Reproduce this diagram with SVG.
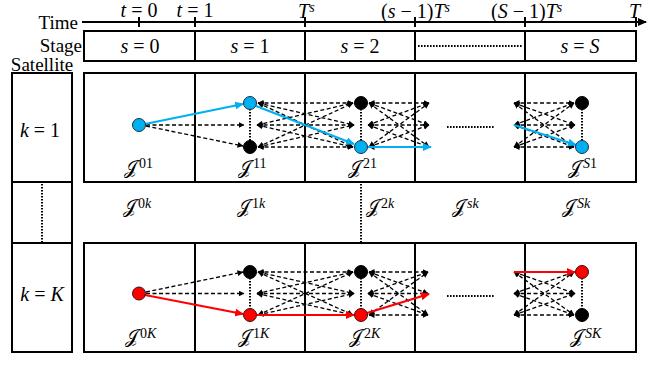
<svg xmlns="http://www.w3.org/2000/svg" width="648" height="365" viewBox="0 0 648 365">
<style>
.bx{fill:none;stroke:#000;stroke-width:2}
.dv{stroke:#000;stroke-width:2}
.tk{stroke:#000;stroke-width:2}
.dt{stroke:#000;stroke-width:2;stroke-dasharray:1.6 1.4}
.dh{stroke:#000;stroke-width:2;stroke-dasharray:1.6 1.4}
.da{stroke:#000;stroke-width:1.3;stroke-dasharray:4 2.5;fill:none;marker-start:url(#ah);marker-end:url(#ah)}
.df{stroke:#000;stroke-width:1.3;stroke-dasharray:4 2.5;fill:none;marker-end:url(#ah)}
.bl{stroke:#00B0F0;stroke-width:2.2;fill:none;marker-end:url(#ab)}
.rd{stroke:#FF0000;stroke-width:2.2;fill:none;marker-end:url(#ar)}
.nb{fill:#00B0F0;stroke:#1F2F3F;stroke-width:1}
.nr{fill:#FF0000;stroke:#3A1010;stroke-width:1}
.nk{fill:#000;stroke:#000;stroke-width:1}
.lb{font-family:"Liberation Serif","DejaVu Serif",serif;font-size:19px;fill:#000}
.m{font-family:"Liberation Serif","DejaVu Serif",serif;font-size:20px;fill:#000}
.it{font-style:italic}
.J{font-family:"DejaVu Serif","DejaVu Sans","Noto Sans",serif;font-size:19px;fill:#000}
.sp{font-family:"Liberation Serif","DejaVu Serif",serif;font-size:14px}
</style>
<defs>
<marker id="ah" markerUnits="userSpaceOnUse" markerWidth="6" markerHeight="6" refX="5.5" refY="3" orient="auto-start-reverse"><path d="M0,0 L6,3 L0,6 z" fill="#000"/></marker>
<marker id="ab" markerUnits="userSpaceOnUse" markerWidth="9" markerHeight="8" refX="8" refY="4" orient="auto"><path d="M0,0 L9,4 L0,8 z" fill="#00B0F0"/></marker>
<marker id="ar" markerUnits="userSpaceOnUse" markerWidth="9" markerHeight="8" refX="8" refY="4" orient="auto"><path d="M0,0 L9,4 L0,8 z" fill="#FF0000"/></marker>
<marker id="ax" markerUnits="userSpaceOnUse" markerWidth="9" markerHeight="8" refX="8" refY="4" orient="auto"><path d="M0,0 L9,4 L0,8 z" fill="#000"/></marker>
</defs>

<g id="time-axis">
<line x1="82" y1="22" x2="646" y2="22" stroke="#000" stroke-width="2" marker-end="url(#ax)"/>
<line class="tk" x1="139" y1="17" x2="139" y2="27"/>
<line class="tk" x1="195" y1="17" x2="195" y2="27"/>
<line class="tk" x1="305" y1="17" x2="305" y2="27"/>
<line class="tk" x1="415" y1="17" x2="415" y2="27"/>
<line class="tk" x1="525" y1="17" x2="525" y2="27"/>
<line class="tk" x1="636" y1="17" x2="636" y2="27"/>
<text class="lb" x="78" y="29" text-anchor="end">Time</text>
<text class="m" x="139" y="17" text-anchor="middle"><tspan class="it">t</tspan> = 0</text>
<text class="m" x="195" y="17" text-anchor="middle"><tspan class="it">t</tspan> = 1</text>
<text class="m" x="298" y="18"><tspan class="it">T</tspan><tspan class="sp it" dy="-6">s</tspan></text>
<text class="m" x="381" y="18">(<tspan class="it">s</tspan> − 1)<tspan class="it">T</tspan><tspan class="sp it" dy="-6">s</tspan></text>
<text class="m" x="491" y="18">(<tspan class="it">S</tspan> − 1)<tspan class="it">T</tspan><tspan class="sp it" dy="-6">s</tspan></text>
<text class="m it" x="629" y="18">T</text>
</g>

<g id="stage-row">
<rect class="bx" x="84" y="31" width="552" height="30"/>
<line class="dv" x1="195" y1="31" x2="195" y2="61"/>
<line class="dv" x1="305" y1="31" x2="305" y2="61"/>
<line class="dv" x1="415" y1="31" x2="415" y2="61"/>
<line class="dv" x1="525" y1="31" x2="525" y2="61"/>
<line class="dh" x1="418" y1="46" x2="523" y2="46"/>
<text class="lb" x="82" y="52" text-anchor="end">Stage</text>
<text class="m" x="140" y="53" text-anchor="middle"><tspan class="it">s</tspan> = 0</text>
<text class="m" x="250" y="53" text-anchor="middle"><tspan class="it">s</tspan> = 1</text>
<text class="m" x="360" y="53" text-anchor="middle"><tspan class="it">s</tspan> = 2</text>
<text class="m" x="580" y="53" text-anchor="middle"><tspan class="it">s</tspan> = <tspan class="it">S</tspan></text>
</g>

<g id="satellite-column">
<text class="lb" x="42" y="71" text-anchor="middle">Satellite</text>
<rect class="bx" x="12" y="73" width="60" height="109"/>
<rect class="bx" x="12" y="182" width="60" height="61"/>
<rect class="bx" x="12" y="243" width="60" height="109"/>
<line class="dt" x1="42" y1="184" x2="42" y2="242"/>
<text class="m" x="40" y="137" text-anchor="middle"><tspan class="it">k</tspan> = 1</text>
<text class="m" x="42" y="301" text-anchor="middle"><tspan class="it">k</tspan> = <tspan class="it">K</tspan></text>
</g>

<g id="grid">
<rect class="bx" x="84" y="73" width="552" height="109"/>
<line class="dv" x1="195" y1="73" x2="195" y2="182"/>
<line class="dv" x1="305" y1="73" x2="305" y2="182"/>
<line class="dv" x1="415" y1="73" x2="415" y2="182"/>
<line class="dv" x1="525" y1="73" x2="525" y2="182"/>
<rect class="bx" x="84" y="243" width="552" height="109"/>
<line class="dv" x1="195" y1="243" x2="195" y2="352"/>
<line class="dv" x1="305" y1="243" x2="305" y2="352"/>
<line class="dv" x1="415" y1="243" x2="415" y2="352"/>
<line class="dv" x1="525" y1="243" x2="525" y2="352"/>
<line class="dt" x1="361" y1="184" x2="361" y2="242"/>
<line class="dh" x1="447" y1="127" x2="495" y2="127"/>
<line class="dh" x1="447" y1="296" x2="495" y2="296"/>
</g>

<g id="connectors">
<line class="dt" x1="250" y1="109" x2="250" y2="141"/>
<line class="dt" x1="361" y1="109" x2="361" y2="141"/>
<line class="dt" x1="582" y1="109" x2="582" y2="141"/>
<line class="dt" x1="250" y1="278" x2="250" y2="309"/>
<line class="dt" x1="361" y1="278" x2="361" y2="309"/>
<line class="dt" x1="582" y1="278" x2="582" y2="309"/>

<line class="df" x1="146" y1="125" x2="244" y2="125"/>
<line class="df" x1="146" y1="126" x2="243" y2="146"/>

<line class="da" x1="258" y1="103" x2="353" y2="103"/>
<line class="da" x1="258" y1="103" x2="354" y2="125"/>
<line class="da" x1="258" y1="103" x2="353" y2="147"/>
<line class="da" x1="257" y1="125" x2="353" y2="103"/>
<line class="da" x1="257" y1="125" x2="354" y2="125"/>
<line class="da" x1="257" y1="125" x2="353" y2="147"/>
<line class="da" x1="258" y1="147" x2="353" y2="103"/>
<line class="da" x1="258" y1="147" x2="354" y2="125"/>
<line class="da" x1="258" y1="147" x2="353" y2="147"/>

<line class="da" x1="369" y1="103" x2="429" y2="103"/>
<line class="da" x1="369" y1="103" x2="429" y2="125"/>
<line class="da" x1="369" y1="103" x2="429" y2="147"/>
<line class="da" x1="368" y1="125" x2="429" y2="103"/>
<line class="da" x1="368" y1="125" x2="429" y2="125"/>
<line class="da" x1="368" y1="125" x2="429" y2="147"/>
<line class="da" x1="369" y1="147" x2="429" y2="103"/>
<line class="da" x1="369" y1="147" x2="429" y2="125"/>
<line class="da" x1="369" y1="147" x2="429" y2="147"/>

<line class="da" x1="514" y1="103" x2="574" y2="103"/>
<line class="da" x1="514" y1="103" x2="575" y2="125"/>
<line class="da" x1="514" y1="103" x2="574" y2="147"/>
<line class="da" x1="514" y1="125" x2="574" y2="103"/>
<line class="da" x1="514" y1="125" x2="575" y2="125"/>
<line class="da" x1="514" y1="125" x2="574" y2="147"/>
<line class="da" x1="514" y1="147" x2="574" y2="103"/>
<line class="da" x1="514" y1="147" x2="575" y2="125"/>
<line class="da" x1="514" y1="147" x2="574" y2="147"/>

<line class="bl" x1="145" y1="124" x2="243" y2="104"/>
<line class="bl" x1="256" y1="106" x2="354" y2="144"/>
<line class="bl" x1="368" y1="147" x2="431" y2="147"/>
<line class="bl" x1="514" y1="125" x2="576" y2="145"/>

<line class="df" x1="146" y1="292" x2="243" y2="272"/>
<line class="df" x1="146" y1="293.5" x2="244" y2="293.5"/>

<line class="da" x1="258" y1="272" x2="353" y2="272"/>
<line class="da" x1="258" y1="272" x2="354" y2="293.5"/>
<line class="da" x1="258" y1="272" x2="353" y2="315"/>
<line class="da" x1="257" y1="293.5" x2="353" y2="272"/>
<line class="da" x1="257" y1="293.5" x2="354" y2="293.5"/>
<line class="da" x1="257" y1="293.5" x2="353" y2="315"/>
<line class="da" x1="258" y1="315" x2="353" y2="272"/>
<line class="da" x1="258" y1="315" x2="354" y2="293.5"/>

<line class="da" x1="369" y1="272" x2="428" y2="272"/>
<line class="da" x1="369" y1="272" x2="428" y2="293.5"/>
<line class="da" x1="369" y1="272" x2="428" y2="315"/>
<line class="da" x1="368" y1="293.5" x2="428" y2="272"/>
<line class="da" x1="368" y1="293.5" x2="428" y2="293.5"/>
<line class="da" x1="368" y1="293.5" x2="428" y2="315"/>
<line class="da" x1="369" y1="315" x2="428" y2="272"/>
<line class="da" x1="369" y1="315" x2="428" y2="315"/>

<line class="da" x1="514" y1="272" x2="575" y2="293.5"/>
<line class="da" x1="514" y1="272" x2="574" y2="315"/>
<line class="da" x1="514" y1="293.5" x2="574" y2="272"/>
<line class="da" x1="514" y1="293.5" x2="575" y2="293.5"/>
<line class="da" x1="514" y1="293.5" x2="574" y2="315"/>
<line class="da" x1="514" y1="315" x2="574" y2="272"/>
<line class="da" x1="514" y1="315" x2="575" y2="293.5"/>
<line class="da" x1="514" y1="315" x2="574" y2="315"/>

<line class="rd" x1="145" y1="295" x2="243" y2="314"/>
<line class="rd" x1="257" y1="315" x2="354" y2="315"/>
<line class="rd" x1="367" y1="313" x2="429" y2="294"/>
<line class="rd" x1="514" y1="272" x2="575" y2="272"/>
</g>

<g id="node-0-1"><circle class="nb" cx="139" cy="125" r="6.5"/><text class="J" x="124" y="174">𝒥<tspan class="sp" x="139" y="168">01</tspan></text></g>
<g id="node-1-1"><circle class="nb" cx="250" cy="103" r="6.5"/><circle class="nk" cx="250" cy="147" r="6.5"/><text class="J" x="238" y="174">𝒥<tspan class="sp" x="253" y="168">11</tspan></text></g>
<g id="node-2-1"><circle class="nk" cx="361" cy="103" r="6.5"/><circle class="nb" cx="361" cy="147" r="6.5"/><text class="J" x="348" y="174">𝒥<tspan class="sp" x="363" y="168">21</tspan></text></g>
<g id="node-S-1"><circle class="nk" cx="582" cy="103" r="6.5"/><circle class="nb" cx="582" cy="147" r="6.5"/><text class="J" x="568" y="174">𝒥<tspan class="sp" x="583" y="168"><tspan class="it">S</tspan>1</tspan></text></g>

<g id="node-0-k"><text class="J" x="123" y="213">𝒥<tspan class="sp" x="138" y="208">0<tspan class="it">k</tspan></tspan></text></g>
<g id="node-1-k"><text class="J" x="237" y="213">𝒥<tspan class="sp" x="252" y="208">1<tspan class="it">k</tspan></tspan></text></g>
<g id="node-2-k"><text class="J" x="366" y="213">𝒥<tspan class="sp" x="381" y="208">2<tspan class="it">k</tspan></tspan></text></g>
<g id="node-s-k"><text class="J" x="452" y="213">𝒥<tspan class="sp" x="467" y="208"><tspan class="it">sk</tspan></tspan></text></g>
<g id="node-S-k"><text class="J" x="562" y="213">𝒥<tspan class="sp" x="577" y="208"><tspan class="it">Sk</tspan></tspan></text></g>

<g id="node-0-K"><circle class="nr" cx="139" cy="293.5" r="6.5"/><text class="J" x="125" y="343">𝒥<tspan class="sp" x="140" y="338">0<tspan class="it">K</tspan></tspan></text></g>
<g id="node-1-K"><circle class="nk" cx="250" cy="272" r="6.5"/><circle class="nr" cx="250" cy="315" r="6.5"/><text class="J" x="238" y="343">𝒥<tspan class="sp" x="253" y="338">1<tspan class="it">K</tspan></tspan></text></g>
<g id="node-2-K"><circle class="nk" cx="361" cy="272" r="6.5"/><circle class="nr" cx="361" cy="315" r="6.5"/><text class="J" x="349" y="343">𝒥<tspan class="sp" x="364" y="338">2<tspan class="it">K</tspan></tspan></text></g>
<g id="node-S-K"><circle class="nr" cx="582" cy="272" r="6.5"/><circle class="nk" cx="582" cy="315" r="6.5"/><text class="J" x="570" y="343">𝒥<tspan class="sp" x="585" y="338"><tspan class="it">SK</tspan></tspan></text></g>
</svg>
